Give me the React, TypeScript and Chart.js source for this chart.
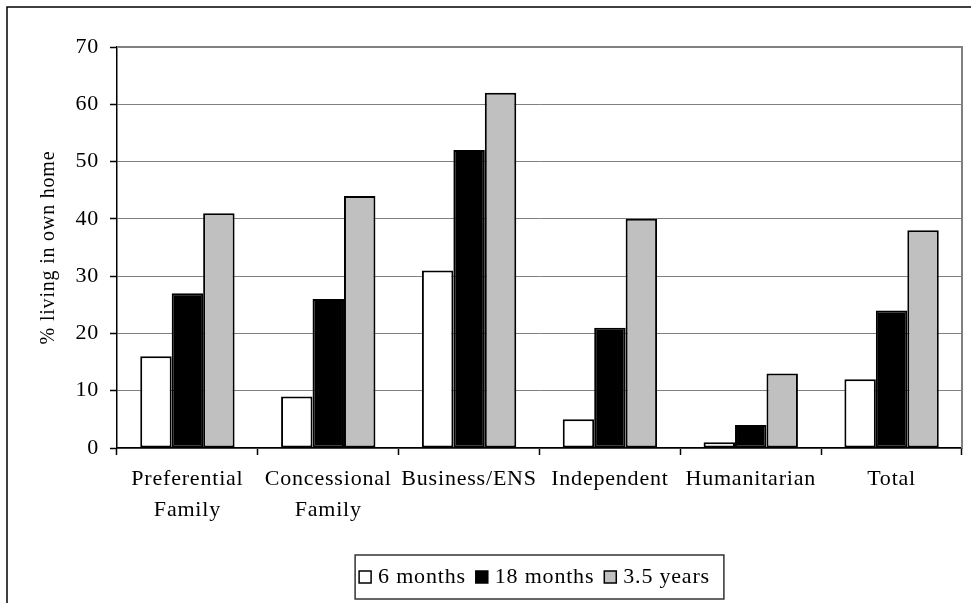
import React, { useEffect, useRef } from "react";
import { Chart, registerables } from "chart.js";

Chart.register(...registerables);

const categories: (string | string[])[] = [
  ["Preferential", "Family"],
  ["Concessional", "Family"],
  "Business/ENS",
  "Independent",
  "Humanitarian",
  "Total",
];
const seriesNames = ["6 months", "18 months", "3.5 years"];
const sixMonths = [16, 9, 31, 5, 1, 12];
const eighteenMonths = [27, 26, 52, 21, 4, 24];
const threeHalfYears = [41, 44, 62, 40, 13, 38];
const seriesColors = ["#ffffff", "#000000", "#c0c0c0"];
const yTitle = "% living in own home";

const FONT = "'Liberation Serif', 'Times New Roman', serif";
const SPACING = "0.8px";

const spacingPlugin = {
  id: "spacing",
  beforeUpdate(chart: any) {
    chart.ctx.letterSpacing = SPACING;
  },
  beforeLayout(chart: any) {
    chart.ctx.letterSpacing = SPACING;
  },
  beforeDraw(chart: any) {
    chart.ctx.letterSpacing = SPACING;
  },
};

const framePlugin = {
  id: "frame",
  afterDraw(chart: any) {
    const { ctx, chartArea } = chart;
    ctx.save();
    ctx.strokeStyle = "#000";
    ctx.lineWidth = 1.5;
    ctx.beginPath();
    ctx.moveTo(7, chart.height + 10);
    ctx.lineTo(7, 7);
    ctx.lineTo(chart.width + 10, 7);
    ctx.stroke();
    ctx.strokeStyle = "#808080";
    ctx.lineWidth = 2;
    ctx.beginPath();
    ctx.moveTo(chartArea.left, chartArea.top);
    ctx.lineTo(chartArea.right, chartArea.top);
    ctx.lineTo(chartArea.right, chartArea.bottom);
    ctx.stroke();
    ctx.letterSpacing = SPACING;
    ctx.font = `22px ${FONT}`;
    ctx.textBaseline = "middle";
    ctx.textAlign = "left";
    const box = 12;
    const gapText = 7;
    const gapItem = 10;
    const ds = chart.data.datasets;
    let total = 0;
    const widths = ds.map((d: any) => ctx.measureText(d.label).width);
    ds.forEach((_d: any, i: number) => {
      total += box + gapText + widths[i] + (i < ds.length - 1 ? gapItem : 0);
    });
    const padL = 4;
    const padR = 14;
    const frameW = total + padL + padR;
    const cx = (chartArea.left + chartArea.right) / 2;
    const fx = cx - frameW / 2;
    const fy = 555;
    const fh = 44;
    ctx.strokeStyle = "#333";
    ctx.lineWidth = 1.5;
    ctx.strokeRect(fx, fy, frameW, fh);
    const cy = fy + fh / 2;
    let x = fx + padL;
    ds.forEach((d: any, i: number) => {
      ctx.fillStyle = d.backgroundColor;
      ctx.fillRect(x, cy - box / 2, box, box);
      ctx.strokeStyle = "#000";
      ctx.lineWidth = 1.5;
      ctx.strokeRect(x, cy - box / 2, box, box);
      ctx.fillStyle = "#000";
      ctx.fillText(d.label, x + box + gapText, cy);
      x += box + gapText + widths[i] + gapItem;
    });
    ctx.restore();
  },
};

export default function App() {
  const ref = useRef<HTMLCanvasElement>(null);
  useEffect(() => {
    if (!ref.current) return;
    const values = [sixMonths, eighteenMonths, threeHalfYears];
    const chart = new Chart(ref.current, {
      type: "bar",
      data: {
        labels: categories,
        datasets: seriesNames.map((name, i) => ({
          label: name,
          data: values[i],
          backgroundColor: seriesColors[i],
          borderColor: "#000",
          borderWidth: 2,
          borderSkipped: false,
          categoryPercentage: 0.67,
          barPercentage: 1.0,
        })),
      },
      options: {
        responsive: false,
        animation: false,
        devicePixelRatio: 1,
        layout: { padding: { left: 0, right: 9, top: 47, bottom: 75 } },
        plugins: {
          legend: { display: false },
          tooltip: { enabled: false },
        },
        scales: {
          x: {
            offset: true,
            grid: {
              display: true,
              drawOnChartArea: false,
              drawTicks: true,
              tickLength: 7,
              tickColor: "#000",
              tickWidth: 1.5,
              offset: true,
            },
            border: { display: true, color: "#000", width: 1.5 },
            ticks: {
              color: "#000",
              font: { family: FONT, size: 22, lineHeight: 1.41 },
              padding: 9,
              maxRotation: 0,
              autoSkip: false,
            },
            afterFit: (s: any) => {
              s.height = 80;
            },
          },
          y: {
            min: 0,
            max: 70,
            ticks: {
              stepSize: 10,
              padding: 11,
              color: "#000",
              font: { family: FONT, size: 22 },
            },
            grid: {
              color: "#808080",
              lineWidth: 1,
              tickColor: "#000",
              tickLength: 7,
              tickWidth: 1.5,
            },
            border: { color: "#000", width: 1.5 },
            title: {
              display: true,
              text: yTitle,
              color: "#000",
              font: { family: FONT, size: 20 },
              padding: { top: 37, bottom: 0 },
            },
            afterFit: (s: any) => {
              s.width = 117;
            },
          },
        },
      },
      plugins: [spacingPlugin, framePlugin],
    });
    return () => chart.destroy();
  }, []);
  return (
    <div style={{ position: "fixed", left: 0, top: 0, width: 971, height: 603, background: "#fff" }}>
      <canvas ref={ref} width={971} height={603} style={{ width: 971, height: 603, display: "block" }} />
    </div>
  );
}
